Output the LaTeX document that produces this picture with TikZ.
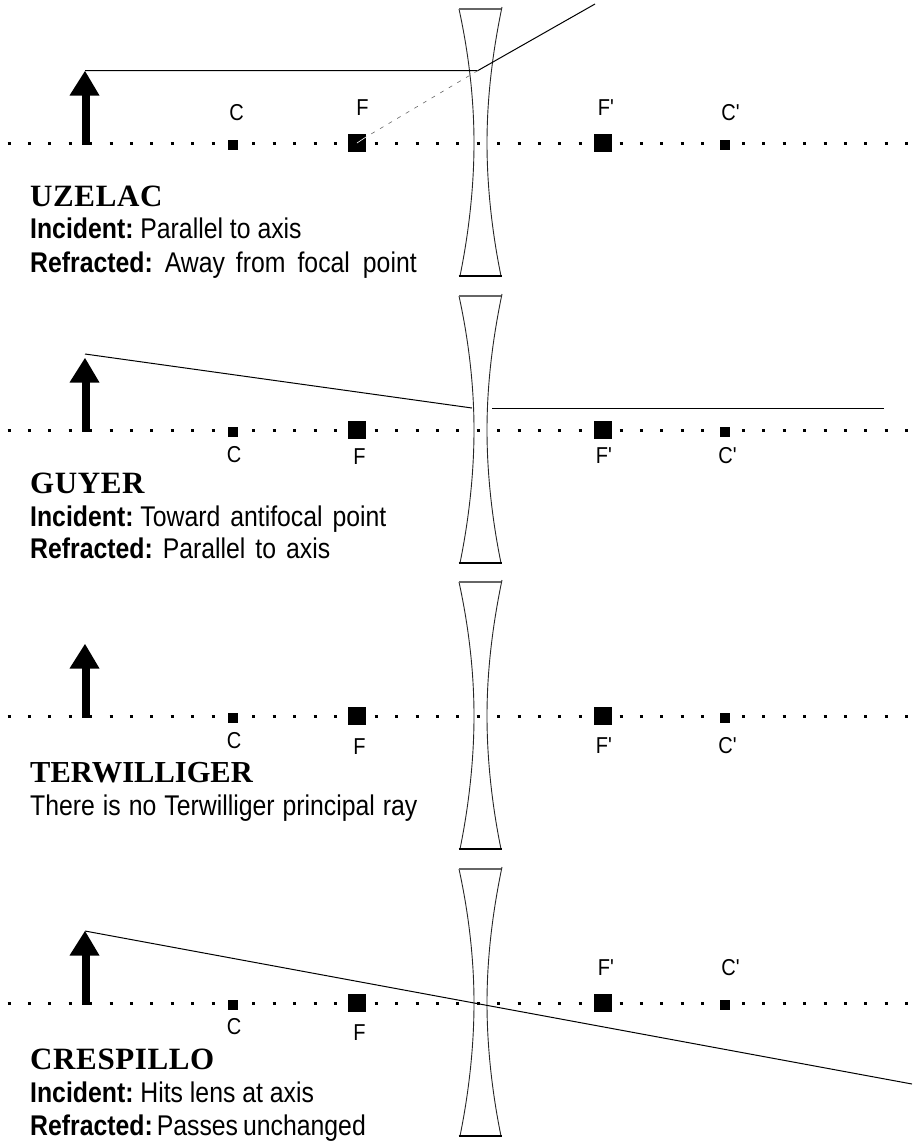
\documentclass[tikz,border=0pt]{standalone}
\usepackage{fontspec}
\setmainfont{Liberation Sans}
\newfontfamily\labelfont[FakeStretch=0.87]{Liberation Sans}
\newfontfamily\namefont[LetterSpace=2]{Liberation Serif}
\newfontfamily\tightnamefont{Liberation Serif}
\usetikzlibrary{arrows,positioning}

\tikzset{
  smallpt/.style={rectangle,fill=black,inner sep=0pt,minimum size=10pt},
  bigpt/.style={rectangle,fill=black,inner sep=0pt,minimum size=18pt},
  ptlabel/.style={inner sep=0pt,font=\labelfont\fontsize{23}{23}\selectfont},
  panelname/.style={anchor=base west,inner sep=0pt,font=\namefont\bfseries\fontsize{31}{31}\selectfont},
  panelline/.style={anchor=base west,inner sep=0pt,font=\labelfont\fontsize{28.5}{28.5}\selectfont},
  axisline/.style={line width=3pt,dash pattern=on 3pt off 17.4pt},
  ray/.style={line width=1pt},
  lensline/.style={line width=0.9pt,black!85}
}

\begin{document}
\begin{tikzpicture}[x=1pt,y=-1pt]
  \path[use as bounding box] (0,0) rectangle (919,1144);

  % one lens, axis, object and four points per panel
  \foreach \p/\y in {u/0,g/287,t/573,c/860}{
    \begin{scope}[yshift=-\y pt]
      \draw[axisline] (7.5,143) -- (919,143);
      \draw[lensline] (459,9) .. controls (469,55) and (474,100) .. (474,143)
                       .. controls (474,186) and (469,232) .. (460,276);
      \draw[lensline] (502,7) .. controls (492,55) and (487,100) .. (487,143)
                       .. controls (487,186) and (492,232) .. (501,276);
      \draw[line width=1.2pt,black!60] (459,9) -- (501,9);
      \draw[line width=1.8pt] (458.5,276) -- (502,276);
      \draw[line width=8pt] (86.3,144.5) -- (86.3,90);
      \fill (85,71) -- (99.5,95.5) -- (69.5,95.5) -- cycle;
      \coordinate (T\p) at (85,71);
      \node[smallpt] (C\p) at (233,144.5) {};
      \node[bigpt]   (F\p) at (357,143) {};
      \node[bigpt]   (G\p) at (603,143) {};
      \node[smallpt] (D\p) at (724.5,144.5) {};
    \end{scope}
  }

  % point labels
  \node[ptlabel] (lcu) [above of=Cu,node distance=31.5pt,xshift=3.5pt] {C};
  \node[ptlabel] (lfu) [above of=Fu,node distance=35pt,xshift=5.5pt]   {F};
  \node[ptlabel] (lgu) [above of=Gu,node distance=35pt,xshift=3pt]     {F'};
  \node[ptlabel] (ldu) [above of=Du,node distance=31.5pt,xshift=6pt]   {C'};
  \node[ptlabel] (lcg) [below of=Cg,node distance=23pt,xshift=1pt]     {C};
  \node[ptlabel] (lfg) [below of=Fg,node distance=27pt,xshift=2.5pt]   {F};
  \node[ptlabel] (lgg) [below of=Gg,node distance=26pt,xshift=1pt]     {F'};
  \node[ptlabel] (ldg) [below of=Dg,node distance=24pt,xshift=3pt]     {C'};
  \node[ptlabel] (lct) [below of=Ct,node distance=23pt,xshift=1pt]     {C};
  \node[ptlabel] (lft) [below of=Ft,node distance=31pt,xshift=2.5pt]   {F};
  \node[ptlabel] (lgt) [below of=Gt,node distance=29.5pt,xshift=1pt]   {F'};
  \node[ptlabel] (ldt) [below of=Dt,node distance=28.5pt,xshift=3pt]   {C'};
  \node[ptlabel] (lcc) [below of=Cc,node distance=22.5pt,xshift=1pt]   {C};
  \node[ptlabel] (lfc) [below of=Fc,node distance=29.5pt,xshift=2.5pt] {F};
  \node[ptlabel] (lgc) [above of=Gc,node distance=35.5pt,xshift=3pt]   {F'};
  \node[ptlabel] (ldc) [above of=Dc,node distance=37pt,xshift=6pt]     {C'};

  % rays
  \coordinate (bend) at (478,70.5);
  \coordinate (outu) at (595,4);
  \draw[ray] (85,70.5) -- (bend) -- (outu);
  \draw[line width=0.6pt,dash pattern=on 4pt off 6pt,black!60] (bend) -- (366,137);
  \draw[line width=0.6pt,white] (366,137) -- (Fu.center);

  \coordinate (startg) at (85,354);
  \coordinate (hitg) at (472,408);
  \coordinate (outg) at (492,408);
  \coordinate (endg) at (884,408);
  \draw[ray] (startg) -- (hitg);
  \draw[ray] (outg) -- (endg);

  \coordinate (endc) at (912,1084);
  \draw[ray] (Tc) -- (endc);

  % panel texts
  \node[panelname] (nu) at (30,206) {UZELAC};
  \node[panelline] (iu) at (30,238) {\bfseries Incident:\ \mdseries Parallel to axis};
  \node[panelline] (ru) at (30,272) {\bfseries Refracted:\hspace{12pt}\mdseries Away\hspace{11pt}from\hspace{12pt}focal\hspace{13pt}point};

  \node[panelname] (ng) at (30,493) {GUYER};
  \node[panelline] (ig) at (30,526) {\bfseries Incident:\ \mdseries Toward\hspace{10pt}antifocal\hspace{10pt}point};
  \node[panelline] (rg) at (30,558) {\bfseries Refracted:\hspace{10pt}\mdseries Parallel\hspace{10pt}to\hspace{10pt}axis};

  \node[panelname,font=\tightnamefont\bfseries\fontsize{30.5}{30.5}\selectfont] (nt) at (30,782) {TERWILLIGER};
  \node[panelline] (it) at (30,815) {There\hspace{8pt}is\hspace{8pt}no\hspace{8pt}Terwilliger\hspace{8pt}principal\hspace{8pt}ray};

  \node[panelname] (nc) at (30,1069) {CRESPILLO};
  \node[panelline] (ic) at (30,1102) {\bfseries Incident:\ \mdseries Hits lens at axis};
  \node[panelline] (rc) at (30,1135) {\bfseries Refracted:\hspace{4pt}\mdseries Passes\hspace{5pt}unchanged};
\end{tikzpicture}
\end{document}
